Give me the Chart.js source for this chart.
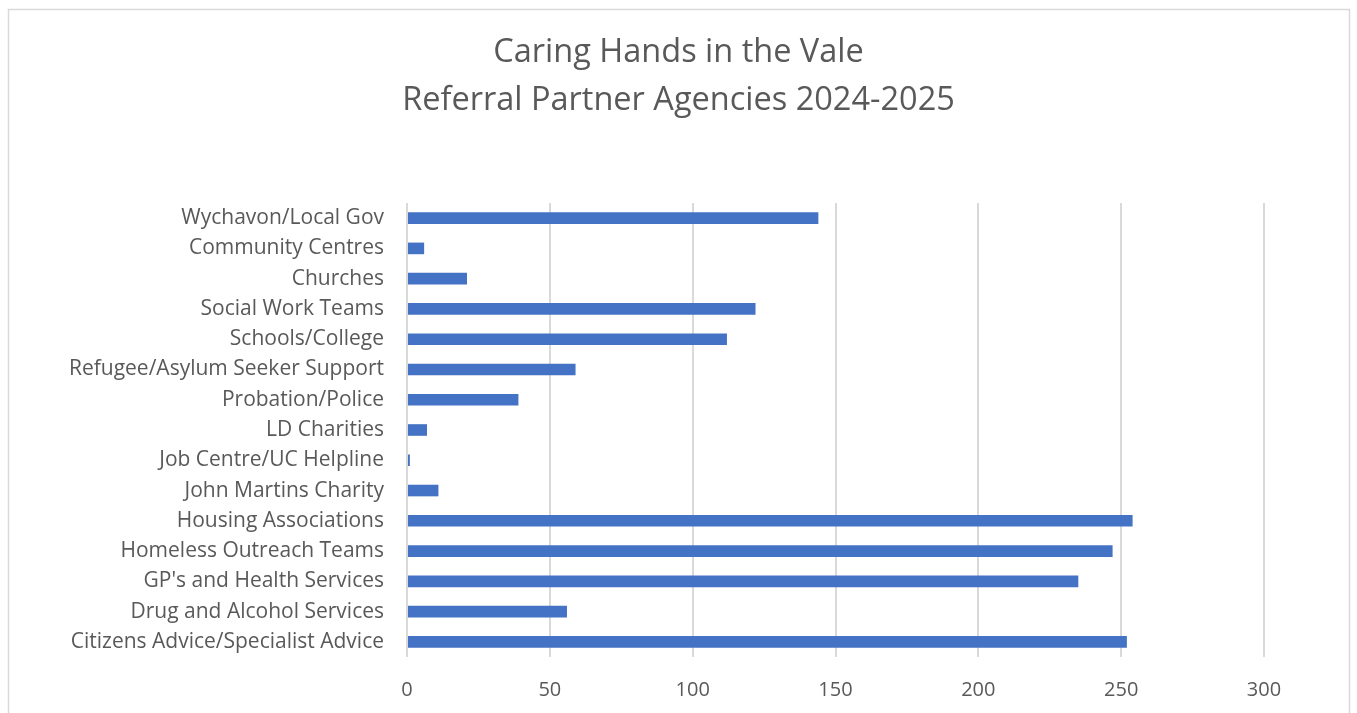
<!DOCTYPE html>
<html>
<head>
<meta charset="utf-8">
<script src="https://cdn.jsdelivr.net/npm/chart.js@4.4.1/dist/chart.umd.min.js"></script>
<style>
  html, body { margin: 0; padding: 0; background: #fff; }
  #wrap { position: relative; width: 1357px; height: 713px; }
</style>
</head>
<body>
<div id="wrap"><canvas id="chart" width="1357" height="713"></canvas></div>
<script>
// Referral partner agencies, listed top to bottom as in the chart
const agencies = [
    'Wychavon/Local Gov',
    'Community Centres',
    'Churches',
    'Social Work Teams',
    'Schools/College',
    'Refugee/Asylum Seeker Support',
    'Probation/Police',
    'LD Charities',
    'Job Centre/UC Helpline',
    'John Martins Charity',
    'Housing Associations',
    'Homeless Outreach Teams',
    "GP's and Health Services",
    'Drug and Alcohol Services',
    'Citizens Advice/Specialist Advice'
];
const referrals = [144, 6, 21, 122, 112, 59, 39, 7, 1, 11, 254, 247, 235, 56, 252];
const titleLines = ['Caring Hands in the Vale', 'Referral Partner Agencies 2024-2025'];
const xTicks = [0, 50, 100, 150, 200, 250, 300];

const textColor = '#595959';
const fontFamily = '"Open Sans", "Noto Sans", sans-serif';

// light grey frame round the chart, like the Excel chart border
const framePlugin = {
    id: 'frame',
    beforeDraw(chart) {
        const ctx = chart.ctx;
        ctx.save();
        ctx.fillStyle = '#fff';
        ctx.fillRect(0, 0, chart.width, chart.height);
        ctx.strokeStyle = '#d9d9d9';
        ctx.lineWidth = 1.5;
        ctx.strokeRect(8.5, 9.5, 1341, 720);
        ctx.restore();
    }
};

// two-line title centred on the whole chart (not just the plot area)
const titlePlugin = {
    id: 'centerTitle',
    afterDraw(chart) {
        const ctx = chart.ctx;
        ctx.save();
        ctx.fillStyle = textColor;
        ctx.font = '32.5px ' + fontFamily;
        ctx.textAlign = 'center';
        ctx.textBaseline = 'middle';
        titleLines.forEach((line, i) => {
            ctx.fillText(line, chart.width / 2, 53 + i * 48);
        });
        ctx.restore();
    }
};

new Chart(document.getElementById('chart').getContext('2d'), {
    type: 'bar',
    data: {
        labels: agencies,
        datasets: [{
            label: 'Referrals',
            data: referrals,
            backgroundColor: '#4472c4',
            borderWidth: 0,
            barPercentage: 0.6,
            categoryPercentage: 0.64
        }]
    },
    options: {
        indexAxis: 'y',
        responsive: false,
        animation: false,
        layout: { padding: { left: 0, right: 93, top: 203, bottom: 0 } },
        plugins: {
            legend: { display: false },
            tooltip: { enabled: false },
            title: { display: false }
        },
        scales: {
            x: {
                min: 0,
                max: 300,
                afterBuildTicks(scale) {
                    scale.ticks = xTicks.map(v => ({ value: v }));
                },
                afterFit(scale) { scale.height = 56; },
                grid: { color: '#d9d9d9', lineWidth: 2, drawTicks: false },
                border: { display: false },
                ticks: {
                    color: textColor,
                    padding: 21,
                    font: { family: fontFamily, size: 20 }
                }
            },
            y: {
                afterFit(scale) { scale.width = 407; },
                grid: { display: false, drawTicks: false },
                border: { display: false },
                ticks: {
                    color: textColor,
                    padding: 23,
                    autoSkip: false,
                    font: { family: fontFamily, size: 21, lineHeight: 1.3 }
                }
            }
        }
    },
    plugins: [framePlugin, titlePlugin]
});
</script>
</body>
</html>
